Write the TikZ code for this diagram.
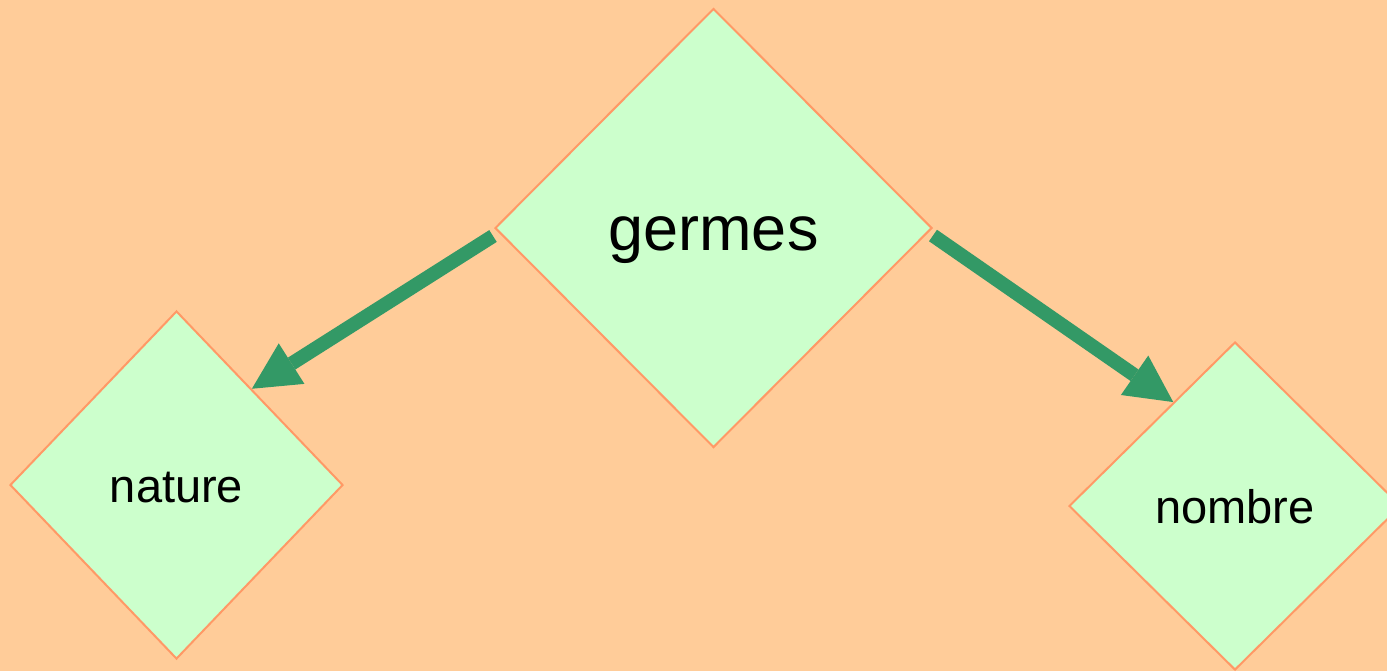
\documentclass[tikz,border=0pt]{standalone}
\usepackage{fontspec}
\setmainfont{Liberation Sans}
\usetikzlibrary{calc,shapes.geometric,arrows.meta}
\definecolor{peach}{HTML}{FFCC99}
\definecolor{mint}{HTML}{CCFFCC}
\definecolor{salmon}{HTML}{FF9966}
\definecolor{seagreen}{HTML}{339966}
\begin{document}
\begin{tikzpicture}[x=0.5pt,y=-0.5pt,
  losange/.style={diamond,draw=salmon,line width=1pt,fill=mint,inner sep=0pt},
  grand/.style={font=\fontsize{31.5}{38}\selectfont,text height=29.5pt,text depth=6.7pt},
  petit/.style={font=\fontsize{23.5}{28}\selectfont,text height=22.5pt,text depth=5pt},
  fleche/.style={color=seagreen,line width=7pt,
    -{Triangle[length=23.5pt,width=24pt,line width=0pt]}}]
  % Background
  \fill[peach] (0,0) rectangle (1387,671);
  \useasboundingbox (0,0) rectangle (1387,671);
  %
  % Diamonds
  \node[losange,grand,minimum width=218.5pt,minimum height=219.5pt]
    (germes) at (713.5,228) {germes};
  \node[losange,petit,minimum width=166.5pt,minimum height=174pt]
    (nature) at (176.5,485) {nature};
  \node[losange,petit,minimum width=166pt,minimum height=164pt]
    (nombre) at (1235,506) {nombre};
  %
  % Arrows
  \draw[fleche] ($(germes.west)+(-1,8)$) -- ($(nature.north)!0.45!(nature.east)$);
  \draw[fleche] ($(germes.east)+(0,7.5)$) -- ($(nombre.north)!0.37!(nombre.west)$);
\end{tikzpicture}
\end{document}
